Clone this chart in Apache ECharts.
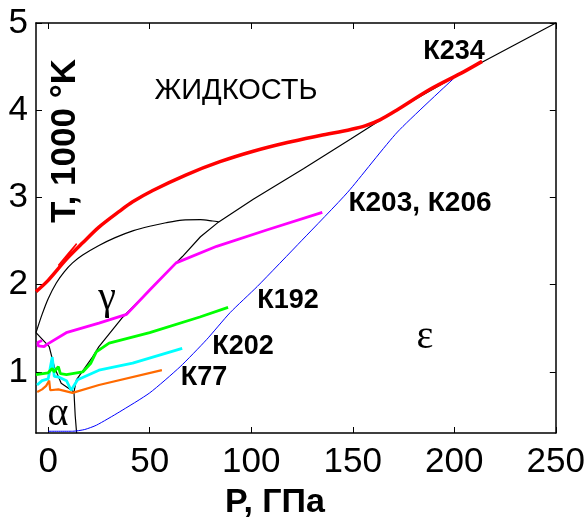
<!DOCTYPE html>
<html><head><meta charset="utf-8">
<script src="https://cdn.jsdelivr.net/npm/echarts@6/dist/echarts.min.js"></script>
<style>html,body{margin:0;padding:0;background:#fff}#c{width:588px;height:521px}</style>
</head><body><div id="c"></div>
<script>
// ---- tick labels ----
const xTicks = [0, 50, 100, 150, 200, 250];
const yTicks = [1, 2, 3, 4, 5];

// ---- phase boundaries (black) ----
const meltLow = [[-6,1.45],[-3,1.66],[0,1.84],[4,2.02],[8,2.15],[12,2.25],[17,2.34],[25,2.45],[33,2.54],[42,2.62],[50,2.67],[58,2.71],[66,2.74],[75,2.745],[81,2.73],[84,2.72]];
const meltHigh = [[84,2.72],[101,2.98],[125.7,3.33],[149,3.67],[172,4.01],[200,4.38],[250,5.0]];
const gammaEps = [[84,2.72],[75,2.55],[66,2.32],[63,2.25],[50,1.94],[36.8,1.63],[25,1.29],[21.8,1.17],[13.9,0.91],[12.7,0.77]];
const alphaEps = [[12.7,0.77],[13.3,0.5],[14,0.3]];
const alphaGamma = [[-6,1.45],[0.5,1.29],[3,1.06],[6.4,0.87],[12.7,0.77]];

// ---- Hugoniot (blue) ----
const hugoniot = [[0,0.32],[12,0.32],[18,0.34],[23.8,0.39],[35,0.54],[50,0.76],[65,1.06],[78,1.37],[89.6,1.68],[103,1.98],[125,2.51],[147.5,3.06],[172,3.75],[200,4.37]];

// ---- experimental paths ----
const k234 = [[-6,1.92],[0,2.05],[8.9,2.29],[17,2.48],[25,2.66],[35,2.84],[41.6,2.95],[51.5,3.08],[68,3.26],[84.6,3.41],[101,3.53],[117.8,3.63],[134,3.71],[149,3.78],[156,3.82],[163.4,3.89],[171.6,4.0],[188.1,4.24],[204.6,4.44],[213.7,4.56]];
const k234b = [[5,2.22],[10,2.36],[14,2.47],[12,2.41],[8,2.27]];
const k203 = [[-3,1.36],[-5,1.34],[-5,1.30],[-2,1.29],[-1,1.31],[8.9,1.45],[25,1.56],[38.6,1.66],[50,1.94],[63,2.25],[83,2.44],[108,2.63],[135,2.83]];
const k192 = [[-6,0.97],[0,0.99],[2,1.04],[3,1.00],[5,1.06],[6,0.98],[9,0.97],[17,1.00],[21,1.10],[23.7,1.23],[30,1.33],[50,1.45],[74.7,1.63],[88.6,1.74]];
const k202 = [[-5.5,0.85],[-3,0.90],[0,0.92],[2,1.17],[3,0.95],[5.4,0.94],[9,0.90],[11.3,0.79],[14.5,0.91],[25,1.02],[41.6,1.10],[66,1.27]];
const k77 = [[-5.4,0.77],[-3,0.80],[-1,0.84],[0.5,0.90],[1,0.79],[5,0.80],[12,0.76],[25,0.85],[56,1.02]];

const chart = echarts.init(document.getElementById('c'), null, {renderer:'canvas'});
const F = 'Liberation Sans, Arial, sans-serif';
const axisLine = {show:true, onZero:false, lineStyle:{color:'#000', width:1.5}};
function xAx(pos, lab){
  return {type:'value', position:pos, min:-6, max:250, splitLine:{show:false}, axisLine,
    axisTick:{show:true, inside:true, length:6, customValues:xTicks, lineStyle:{color:'#000'}},
    axisLabel:{show:lab, customValues:xTicks, color:'#000', fontFamily:F, fontSize:35, margin:12}};
}
function yAx(pos, lab){
  return {type:'value', position:pos, min:0.3, max:5, splitLine:{show:false}, axisLine,
    axisTick:{show:true, inside:true, length:6, customValues:yTicks, lineStyle:{color:'#000'}},
    axisLabel:{show:lab, customValues:yTicks, color:'#000', fontFamily:F, fontSize:35, margin:8}};
}
function ln(data, color, w, z, smooth){
  return {type:'line', data, showSymbol:false, symbol:'none', silent:true, z:z||2,
    smooth:smooth||false,
    lineStyle:{color, width:w}, xAxisIndex:0, yAxisIndex:0};
}
const txt = (x,y,t,fs,bold,family,extra)=>Object.assign({type:'text', x, y, style:{text:t, fill:'#000',
  font:(bold?'bold ':'')+fs+'px '+(family||F), textAlign:'center', textVerticalAlign:'middle'}}, extra||{});

chart.setOption({
  animation:false,
  backgroundColor:'#fff',
  grid:{left:36, right:32, top:23, bottom:88, containLabel:false},
  xAxis:[xAx('bottom',true), xAx('top',false)],
  yAxis:[yAx('left',true), yAx('right',false)],
  series:[
    ln(meltLow,'#000',1.2,2,0.3), ln(meltHigh,'#000',1.2), ln(gammaEps,'#000',1.2), ln(alphaEps,'#000',1.2), ln(alphaGamma,'#000',1.2),
    ln(hugoniot,'#0000ff',1,2,0.2),
    ln(k77,'#ff6a00',2.2,3), ln(k202,'#00ffff',2.8,3), ln(k192,'#00ff00',2.8,3), ln(k203,'#ff00ff',2.8,3),
    ln(k234,'#ff0000',3.5,4,0.3), ln(k234b,'#ff0000',1.5,4)
  ],
  graphic:[
    txt(236,91,'ЖИДКОСТЬ',29,false),
    txt(454,52,'К234',27,true),
    txt(420,203,'К203, К206',28,true),
    txt(288,301,'К192',27,true),
    txt(243,347,'К202',27,true),
    txt(204,378,'К77',27,true),
    txt(107,298,'γ',40,false,'Liberation Serif, serif'),
    txt(425,337,'ε',40,false,'Liberation Serif, serif'),
    txt(58,414,'α',40,false,'Liberation Serif, serif'),
    txt(65,141,'T, 1000 °K',35,true,F,{rotation:Math.PI/2}),
    txt(275,503,'P, ГПа',34,true)
  ]
});
</script></body></html>
